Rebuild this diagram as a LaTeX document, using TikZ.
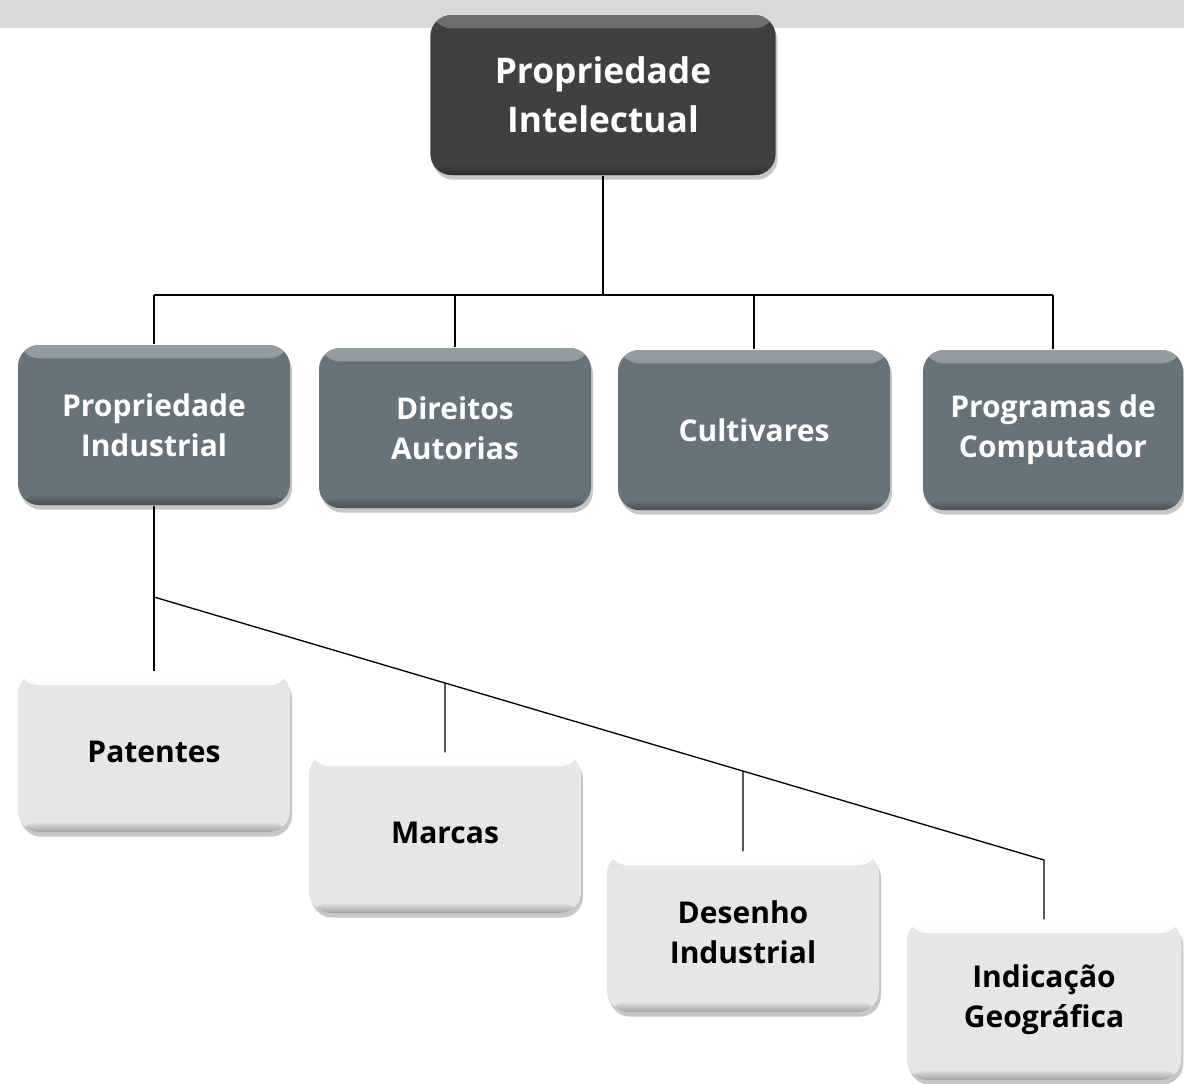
\documentclass[tikz,border=0pt]{standalone}
\usepackage{fontspec}
\setmainfont{Open Sans}
\usetikzlibrary{shadows}

\definecolor{rootgray}{HTML}{404040}
\definecolor{slate}{HTML}{66737A}
\definecolor{pale}{HTML}{E6E6E6}
\definecolor{band}{HTML}{D9D9D9}

\begin{document}
\begin{tikzpicture}[x=0.75pt, y=-0.75pt, line width=1pt,
  bevel/.style n args={3}{fill=#1, path picture={
    \shade[top color=#2, bottom color=#1] (path picture bounding box.north west)
      rectangle ([yshift=-10pt]path picture bounding box.north east);
    \shade[top color=#1, bottom color=#3] ([yshift=8pt]path picture bounding box.south west)
      rectangle (path picture bounding box.south east);}},
  box/.style={rectangle, rounded corners=16pt, align=center, minimum width=204pt, minimum height=120pt,
    font=\bfseries\fontsize{22.5}{30}\selectfont,
    drop shadow={shadow xshift=1.5pt, shadow yshift=-3.5pt, opacity=0.45}},
  rootbox/.style={box, text=white, minimum width=259pt, font=\bfseries\fontsize{26.5}{37}\selectfont,
    bevel={rootgray}{rootgray!75!white}{rootgray!70!black}},
  areabox/.style={box, text=white, bevel={slate}{slate!70!white}{slate!70!black}},
  itembox/.style={box, text=black, bevel={pale}{white}{pale!70!black}}]

\useasboundingbox (0,0) rectangle (1184,1083);
\fill[band] (0,0) rectangle (1184,28);

\node (root) at (603,95)  [rootbox] {Propriedade\\Intelectual};

\node (pind)  at (154,425)  [areabox] {Propriedade\\Industrial};
\node (autor) at (455,428)  [areabox] {Direitos\\Autorias};
\node (cult)  at (754,430)  [areabox] {Cultivares};
\node (prog)  at (1053,430) [areabox, minimum width=195pt] {Programas de\\Computador};

\node (pat)  at (154,752)  [itembox] {Patentes};
\node (marc) at (445,833)  [itembox] {Marcas};
\node (des)  at (743,932)  [itembox] {Desenho\\Industrial};
\node (geo)  at (1044,1000) [itembox, minimum width=206pt] {Indicação\\Geográfica};

\coordinate (rootjoin) at (603,295);
\coordinate (indjoin)  at (154,597);
\coordinate (indend)   at (1044,860);

\draw (root) -- (rootjoin);
\draw (pind.north |- rootjoin) -- (prog.north |- rootjoin);
\foreach \n in {pind, autor, cult, prog}
  \draw (\n.north |- rootjoin) -- (\n.north);

\draw (pind) -- (pat);
\draw (indjoin) -- (indend) -- (geo);
\foreach \n in {marc, des}
  \draw (intersection of indjoin--indend and \n.north--\n.south) -- (\n.north);

\end{tikzpicture}
\end{document}
